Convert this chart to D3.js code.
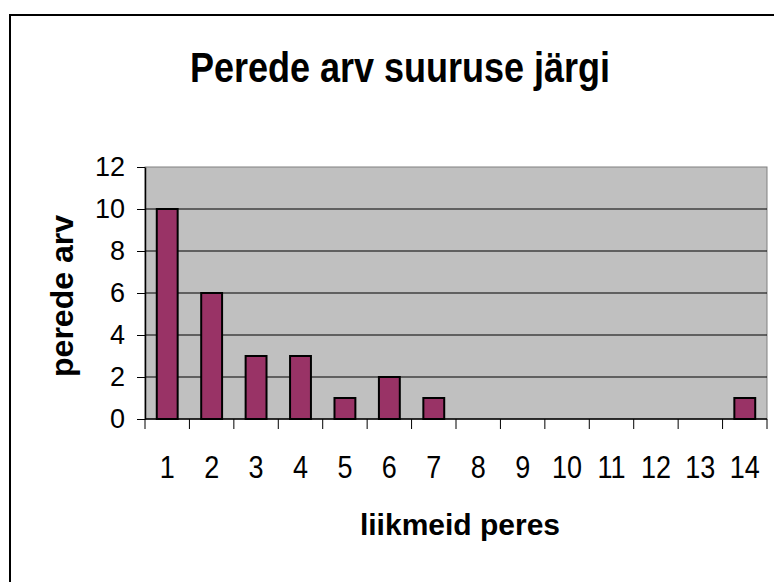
<!DOCTYPE html>
<html>
<head>
<meta charset="utf-8">
<script src="https://cdn.jsdelivr.net/npm/d3@7"></script>
<style>
  body { margin: 0; background: #fff; }
  svg { display: block; font-family: "Liberation Sans", Arial, sans-serif; }
</style>
</head>
<body>
<svg id="chart"></svg>
<script>
// family sizes (number of members) and how many families have that size
const categories = ["1", "2", "3", "4", "5", "6", "7", "8", "9", "10", "11", "12", "13", "14"];
const values = [10, 6, 3, 3, 1, 2, 1, 0, 0, 0, 0, 0, 0, 1];
const yTicks = [0, 2, 4, 6, 8, 10, 12];

const title = "Perede arv suuruse järgi";
const xTitle = "liikmeid peres";
const yTitle = "perede arv";

const W = 774, H = 582;
const plot = { left: 145, top: 167, right: 767, bottom: 419 };

const svg = d3.select("#chart").attr("width", W).attr("height", H);

// outer chart border (runs off the right and bottom edge)
svg.append("rect")
  .attr("x", 10).attr("y", 15)
  .attr("width", 800).attr("height", 620)
  .attr("fill", "#fff")
  .attr("stroke", "#000").attr("stroke-width", 2);

const x = d3.scaleBand().domain(categories).range([plot.left, plot.right]).padding(0);
const y = d3.scaleLinear().domain([0, 12]).range([plot.bottom, plot.top]);

// plot area background
svg.append("rect")
  .attr("x", plot.left).attr("y", plot.top)
  .attr("width", plot.right - plot.left).attr("height", plot.bottom - plot.top)
  .attr("fill", "#c0c0c0")
  .attr("stroke", "#808080").attr("stroke-width", 1);

// horizontal gridlines
svg.append("g")
  .selectAll("line")
  .data(yTicks.filter(d => d > 0 && d < 12))
  .enter().append("line")
  .attr("x1", plot.left).attr("x2", plot.right)
  .attr("y1", d => y(d)).attr("y2", d => y(d))
  .attr("stroke", "#000").attr("stroke-width", 1);

// bars
const barFrac = 0.47;
svg.append("g")
  .selectAll("rect")
  .data(categories.map((c, i) => ({ c, v: values[i] })).filter(d => d.v > 0))
  .enter().append("rect")
  .attr("x", d => x(d.c) + x.step() * (1 - barFrac) / 2)
  .attr("width", x.step() * barFrac)
  .attr("y", d => y(d.v))
  .attr("height", d => y(0) - y(d.v))
  .attr("fill", "#993366")
  .attr("stroke", "#000").attr("stroke-width", 2);

// y axis
const yAxis = svg.append("g")
  .attr("transform", "translate(" + plot.left + ",0)")
  .call(d3.axisLeft(y).tickValues(yTicks).tickSizeInner(8).tickSizeOuter(0).tickPadding(12));
yAxis.select(".domain").attr("stroke", "#000").attr("stroke-width", 1.5);
yAxis.selectAll(".tick line").attr("stroke", "#000");
yAxis.selectAll("text")
  .attr("font-size", 27).attr("fill", "#000")
  .attr("font-family", "Liberation Sans, Arial, sans-serif");

// x axis: ticks sit between the categories
const xAxis = svg.append("g").attr("transform", "translate(0," + plot.bottom + ")");
xAxis.append("line")
  .attr("x1", plot.left).attr("x2", plot.right)
  .attr("stroke", "#000").attr("stroke-width", 1.5);
xAxis.selectAll("line.tk")
  .data(categories.concat(["end"]))
  .enter().append("line").attr("class", "tk")
  .attr("x1", d => d === "end" ? plot.right : x(d))
  .attr("x2", d => d === "end" ? plot.right : x(d))
  .attr("y1", 0).attr("y2", 10)
  .attr("stroke", "#000");
xAxis.selectAll("text")
  .data(categories)
  .enter().append("text")
  .attr("transform", d => "translate(" + (x(d) + x.step() / 2) + ",59) scale(1,1.15)")
  .attr("text-anchor", "middle")
  .attr("font-size", 27)
  .text(d => d);

// titles
svg.append("text")
  .attr("transform", "translate(400,82) scale(1,1.16)")
  .attr("text-anchor", "middle")
  .attr("font-size", 36).attr("font-weight", "bold")
  .text(title);

svg.append("text")
  .attr("transform", "translate(460,535)")
  .attr("text-anchor", "middle")
  .attr("font-size", 30).attr("font-weight", "bold")
  .text(xTitle);

svg.append("text")
  .attr("transform", "translate(73,296) rotate(-90)")
  .attr("text-anchor", "middle")
  .attr("font-size", 32).attr("font-weight", "bold")
  .text(yTitle);
</script>
</body>
</html>
